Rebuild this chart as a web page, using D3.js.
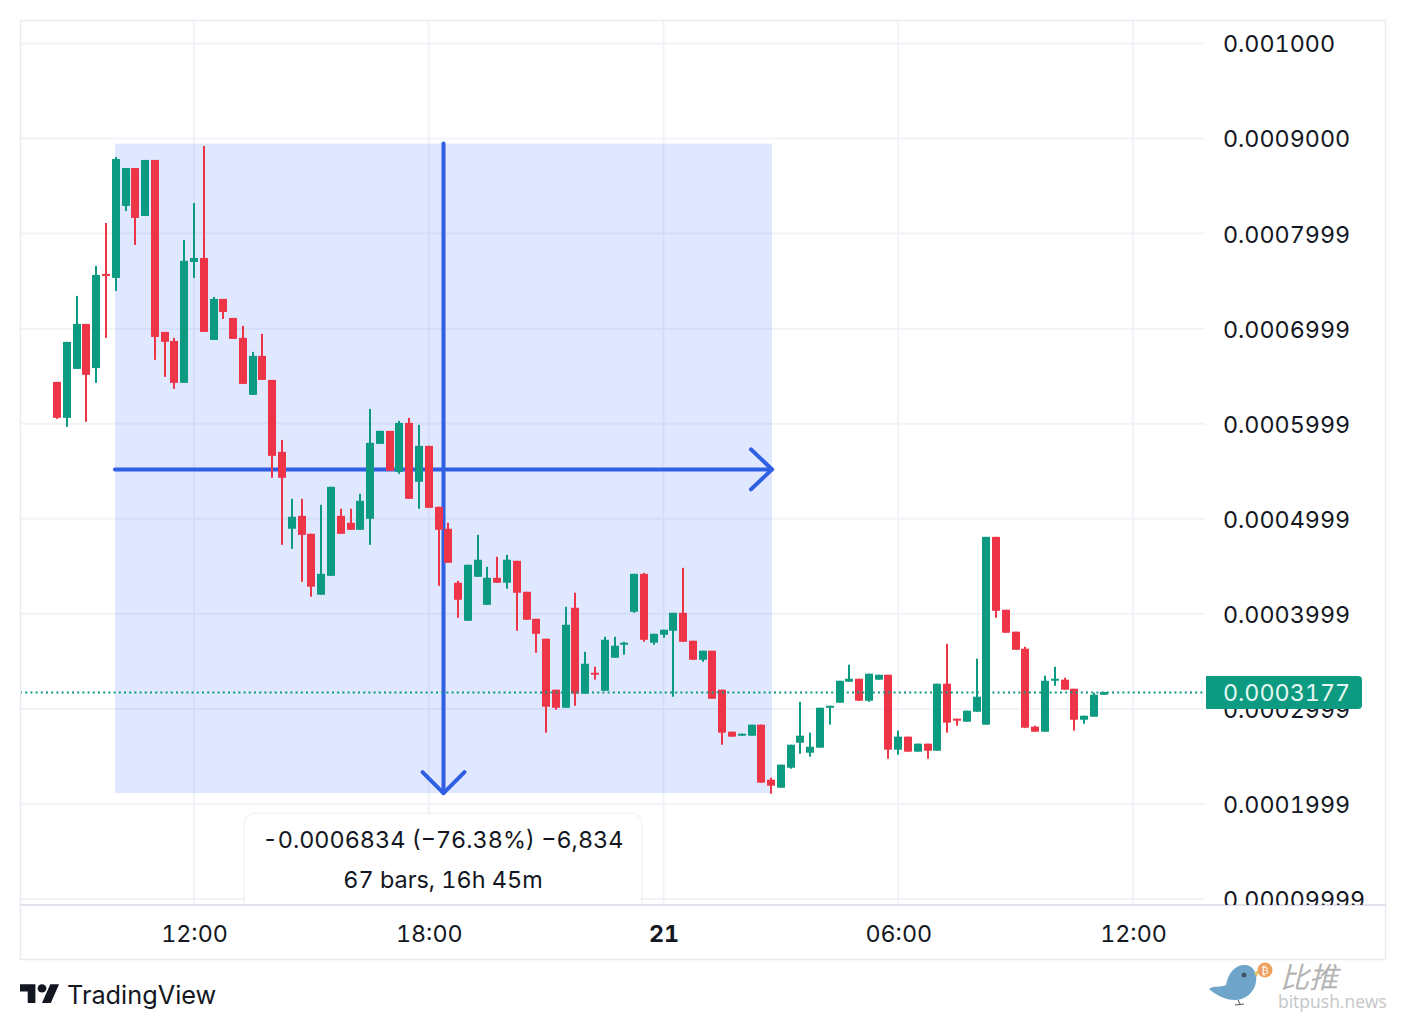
<!DOCTYPE html>
<html>
<head>
<meta charset="utf-8">
<title>TradingView chart</title>
<script src="https://d3js.org/d3.v7.min.js"></script>
<style>
html, body { margin: 0; padding: 0; background: #fff; overflow: hidden; }
text { font-family: Inter, "Noto Sans", sans-serif; fill: #131722; font-variant-numeric: tabular-nums; }
</style>
</head>
<body>
<script>
// prices are in ticks of 0.0000001
var barOpen = [
    6440,6062,6577,7050,6587,7576,7534,8291,8690,8186,
    8775,6966,6871,6430,7702,7744,6882,7313,7113,6903,
    6304,6714,6461,5704,4895,5031,4842,4201,4400,5031,
    4958,4884,5000,5788,5925,5494,6009,5389,5767,5126,
    4895,4327,3927,4390,4095,4379,4327,4558,4232,3948,
    3738,3202,3012,4064,3160,3380,3191,3538,3675,4022,
    4421,3696,3780,3822,4011,3717,3517,3612,3202,2760,
    2718,2718,2834,2255,2171,2381,2644,2539,2592,3012,
    3065,3286,3317,3086,3307,3359,2571,2708,2550,2634,
    2560,3265,2897,2865,2970,2834,4810,4043,3812,3633,
    2813,2760,3296,3307,3212,2886,2918,3149
];
var barClose = [
    6062,6861,7050,6514,7565,7555,8785,8690,8165,8775,
    6913,6861,6430,7713,7744,6966,7313,7176,6892,6419,
    6714,6461,5662,5431,5021,4831,4285,4421,5336,4842,
    4884,5189,5799,5925,5504,6009,5210,5767,5115,4884,
    4537,4148,4516,4569,4379,4327,4569,4222,3938,3790,
    3023,3012,3885,3160,3475,3359,3727,3664,3696,4421,
    3727,3790,3833,4011,3706,3517,3612,3107,2750,2708,
    2739,2834,2224,2192,2413,2623,2718,2602,3012,3033,
    3296,3317,3086,3370,3359,2571,2708,2550,2634,2560,
    3265,2855,2876,2981,3128,4810,4032,3801,3622,2802,
    2760,3296,3317,3202,2886,2928,3149,3177
];
var barHigh = [
    6440,6861,7345,7050,7660,8112,8806,8690,8690,8775,
    8775,6966,6903,7933,8322,8922,7334,7313,7113,7029,
    6756,6945,6461,5830,5210,5210,4842,5147,5336,5105,
    5105,5263,6156,5925,5925,6030,6062,5988,5767,5126,
    4958,4348,4516,4831,4495,4600,4621,4558,4232,3948,
    3738,3202,4074,4222,3601,3443,3759,3759,3706,4421,
    4432,3790,3833,4011,4484,3717,3612,3612,3202,2760,
    2739,2834,2834,2276,2413,2623,3075,2750,3012,3033,
    3296,3465,3317,3370,3359,3359,2771,2708,2634,2634,
    3265,3685,2897,2981,3528,4810,4810,4043,3812,3654,
    2823,3349,3443,3328,3212,2928,3170,3177
];
var barLow = [
    6051,5967,6577,6020,6430,6903,7397,8238,7881,8186,
    6672,6493,6367,6430,7534,6966,6882,7103,6892,6419,
    6304,6461,5431,4726,4684,4337,4180,4201,4400,4842,
    4884,4884,4726,5788,5504,5473,5210,5105,5115,4295,
    4537,3959,3927,4390,4095,4327,4264,3822,3938,3591,
    2750,2991,3012,3033,3160,3307,3191,3538,3570,4011,
    3706,3675,3748,3128,3706,3517,3496,3107,2623,2708,
    2718,2718,2224,2108,2171,2371,2529,2497,2592,2834,
    3065,3286,3086,3075,3307,2476,2518,2550,2550,2476,
    2560,2750,2823,2865,2970,2834,3959,3801,3622,2802,
    2760,2760,3244,3202,2771,2844,2918,3149
];

var priceTicks = [10000, 9000, 8000, 7000, 6000, 5000, 4000, 3000, 2000, 1000];
var priceLabels = ["0.001000", "0.0009000", "0.0007999", "0.0006999", "0.0005999",
    "0.0004999", "0.0003999", "0.0002999", "0.0001999", "0.00009999"];
var timeTicks = [14, 38, 62, 86, 110];
var timeLabels = ["12:00", "18:00", "21", "06:00", "12:00"];

var lastPrice = 3177;
var lastPriceLabel = "0.0003177";

// the measure tool: start bar and price, end bar and price
var measureBars = [6, 73];
var measurePrices = [8947, 2113];
var measureText = ["-0.0006834 (\u221276.38%) \u22126,834", "67 bars, 16h 45m"];

var green = "#0c9a80";
var red = "#ee3548";
var blue = "#2f5fe3";
var gridColor = "#f1f3f8";
var borderColor = "#e9ebf2";

var svg = d3.select("body").append("svg")
    .attr("width", 1406)
    .attr("height", 1030)
    .style("display", "block");

var x = d3.scaleLinear().domain([14, 110]).range([194, 1133]);
var y = d3.scaleLinear().domain([10000, 1000]).range([43.5, 899]);

var paneRight = 1205, paneBottom = 905;

// clip for the pane and the price axis
var defs = svg.append("defs");
defs.append("clipPath").attr("id", "paneClip").append("rect")
    .attr("x", 20).attr("y", 20).attr("width", paneRight - 20).attr("height", paneBottom - 20);
defs.append("clipPath").attr("id", "axisClip").append("rect")
    .attr("x", paneRight).attr("y", 20).attr("width", 181).attr("height", paneBottom - 20);
defs.append("filter").attr("id", "softShadow")
    .attr("x", "-5%").attr("y", "-10%").attr("width", "110%").attr("height", "120%")
    .append("feDropShadow")
    .attr("dx", 0).attr("dy", 0).attr("stdDeviation", 1.5)
    .attr("flood-color", "#8a90a8").attr("flood-opacity", 0.3);

var pane = svg.append("g").attr("clip-path", "url(#paneClip)");

// grid
pane.selectAll(".hgrid").data(priceTicks).enter().append("line")
    .attr("x1", 20).attr("x2", paneRight)
    .attr("y1", function(d) { return y(d); })
    .attr("y2", function(d) { return y(d); })
    .attr("stroke", gridColor).attr("stroke-width", 2);
pane.selectAll(".vgrid").data(timeTicks).enter().append("line")
    .attr("y1", 20).attr("y2", paneBottom)
    .attr("x1", function(d) { return x(d); })
    .attr("x2", function(d) { return x(d); })
    .attr("stroke", gridColor).attr("stroke-width", 2);

// measure rectangle and its arrows
var x0 = Math.floor(x(measureBars[0])), x1 = Math.ceil(x(measureBars[1]));
var y0 = y(measurePrices[0]), y1 = y(measurePrices[1]);
var xMid = (x0 + x1) / 2, yMid = (y0 + y1) / 2 + 1;

var tool = pane.append("g");
tool.append("rect")
    .attr("x", x0).attr("y", y0)
    .attr("width", x1 - x0).attr("height", y1 - y0)
    .attr("fill", "rgba(41, 98, 255, 0.15)");

var arrowLine = d3.line();
var arrows = [
    [[x0, yMid], [x1, yMid]],
    [[x1 - 21, yMid - 20], [x1, yMid], [x1 - 21, yMid + 20]],
    [[xMid, y0], [xMid, y1]],
    [[xMid - 21, y1 - 21], [xMid, y1], [xMid + 21, y1 - 21]]
];
tool.selectAll("path").data(arrows).enter().append("path")
    .attr("d", arrowLine)
    .attr("fill", "none")
    .attr("stroke", blue)
    .attr("stroke-width", 4)
    .attr("stroke-linecap", "round")
    .attr("stroke-linejoin", "round");

// candles
var bars = d3.range(barOpen.length);
var candleColor = function(i) { return barClose[i] >= barOpen[i] ? green : red; };

pane.selectAll(".wick").data(bars).enter().append("rect")
    .attr("class", "wick")
    .attr("x", function(i) { return Math.round(x(i)) - 1; })
    .attr("width", 2)
    .attr("y", function(i) { return y(barHigh[i]); })
    .attr("height", function(i) { return y(barLow[i]) - y(barHigh[i]); })
    .attr("fill", candleColor);

pane.selectAll(".body").data(bars).enter().append("rect")
    .attr("class", "body")
    .attr("x", function(i) { return Math.round(x(i)) - 4; })
    .attr("width", 8)
    .attr("y", function(i) { return y(Math.max(barOpen[i], barClose[i])); })
    .attr("height", function(i) { return Math.max(2, Math.abs(y(barOpen[i]) - y(barClose[i]))); })
    .attr("fill", candleColor);

// last price line
pane.append("line")
    .attr("x1", 20).attr("x2", paneRight)
    .attr("y1", y(lastPrice) + 0.5).attr("y2", y(lastPrice) + 0.5)
    .attr("stroke", green)
    .attr("stroke-width", 2)
    .attr("stroke-dasharray", "2 3.2");

// measure label
var labelBox = svg.append("g");
labelBox.append("rect")
    .attr("x", 245).attr("y", 814)
    .attr("width", 396).attr("height", 100)
    .attr("rx", 10)
    .attr("fill", "#fff")
    .attr("filter", "url(#softShadow)")
    .attr("clip-path", "url(#paneClip)");
labelBox.selectAll("text").data(measureText).enter().append("text")
    .attr("x", xMid - 0.5)
    .attr("y", function(d, i) { return 848 + i * 40; })
    .attr("text-anchor", "middle")
    .attr("font-size", 23.4)
    .text(function(d) { return d; });

// frame
svg.append("rect")
    .attr("x", 20.5).attr("y", 20.5)
    .attr("width", 1365).attr("height", 939)
    .attr("fill", "none")
    .attr("stroke", borderColor)
    .attr("stroke-width", 1.5);
svg.append("line")
    .attr("x1", 20).attr("x2", 1386)
    .attr("y1", paneBottom).attr("y2", paneBottom)
    .attr("stroke", "#e0e3eb")
    .attr("stroke-width", 2);

// price axis
var priceAxis = d3.axisRight(y)
    .tickValues(priceTicks)
    .tickSize(0)
    .tickPadding(0)
    .tickFormat(function(d, i) { return priceLabels[i]; });
var priceG = svg.append("g")
    .attr("clip-path", "url(#axisClip)")
    .append("g")
    .attr("transform", "translate(1223,0)")
    .call(priceAxis);
priceG.select(".domain").remove();
priceG.selectAll("text")
    .attr("font-family", null)
    .attr("font-size", 23.3)
    .attr("dy", "0.36em");

// time axis
var timeAxis = d3.axisBottom(x)
    .tickValues(timeTicks)
    .tickSize(0)
    .tickPadding(0)
    .tickFormat(function(d, i) { return timeLabels[i]; });
var timeG = svg.append("g")
    .attr("transform", "translate(0,925)")
    .call(timeAxis);
timeG.select(".domain").remove();
timeG.selectAll("text")
    .attr("dy", "0.71em")
    .attr("font-size", 23.3)
    .attr("font-weight", function(d, i) { return timeLabels[i] === "21" ? 700 : 400; });

// last price tag
var tagY = y(lastPrice);
svg.append("path")
    .attr("d", "M1206," + (tagY - 16) + "H1358a4,4 0 0 1 4,4V" + (tagY + 13) + "a4,4 0 0 1 -4,4H1206Z")
    .attr("fill", green);
svg.append("text")
    .attr("x", 1223).attr("y", tagY + 8.5)
    .attr("font-size", 23.3)
    .style("fill", "#e4f7f2")
    .text(lastPriceLabel);

// TradingView logo
var logo = svg.append("g").attr("transform", "translate(20,980) scale(1.1,1.05)");
logo.append("path")
    .attr("d", "M14 22H7V11H0V4h14v18zM28 22h-8l7.5-18h8L28 22z")
    .attr("fill", "#131722");
logo.append("circle").attr("cx", 20).attr("cy", 8).attr("r", 4).attr("fill", "#131722");
svg.append("text")
    .attr("x", 67).attr("y", 1004)
    .attr("font-size", 25.3)
    .text("TradingView");

// bitpush watermark
var mark = svg.append("g");
mark.append("path")
    .attr("d", "M1209,989 C1215,985 1220,988 1226,985 C1228,975 1233,966 1243,965 C1252,964 1258,972 1256,982 C1254,993 1245,1000 1235,1000 C1225,1000 1216,995 1209,989Z")
    .attr("fill", "#6fa5cb");
mark.append("path")
    .attr("d", "M1238,1000 L1240,1004 M1235,1005 L1244,1004")
    .attr("stroke", "#555").attr("stroke-width", 1).attr("fill", "none");
mark.append("circle").attr("cx", 1244).attr("cy", 975).attr("r", 2.5).attr("fill", "#44566a");
mark.append("path").attr("d", "M1254,973 L1259,970 L1257,977Z").attr("fill", "#e6c35a");
mark.append("circle").attr("cx", 1265).attr("cy", 970).attr("r", 7.5).attr("fill", "#eda060");
mark.append("text")
    .attr("x", 1265).attr("y", 974)
    .attr("text-anchor", "middle")
    .attr("font-size", 11)
    .style("fill", "#fff")
    .style("font-family", "DejaVu Sans")
    .text("\u20bf");
mark.append("text")
    .attr("x", 1280).attr("y", 988)
    .attr("font-size", 29)
    .attr("font-style", "italic")
    .style("fill", "#b4b4b4")
    .style("font-family", "Noto Sans CJK SC")
    .text("比推");
mark.append("text")
    .attr("x", 1278).attr("y", 1008)
    .attr("font-size", 17.5)
    .style("fill", "#c4c6c8")
    .style("font-family", "Open Sans")
    .text("bitpush.news");
</script>
</body>
</html>
